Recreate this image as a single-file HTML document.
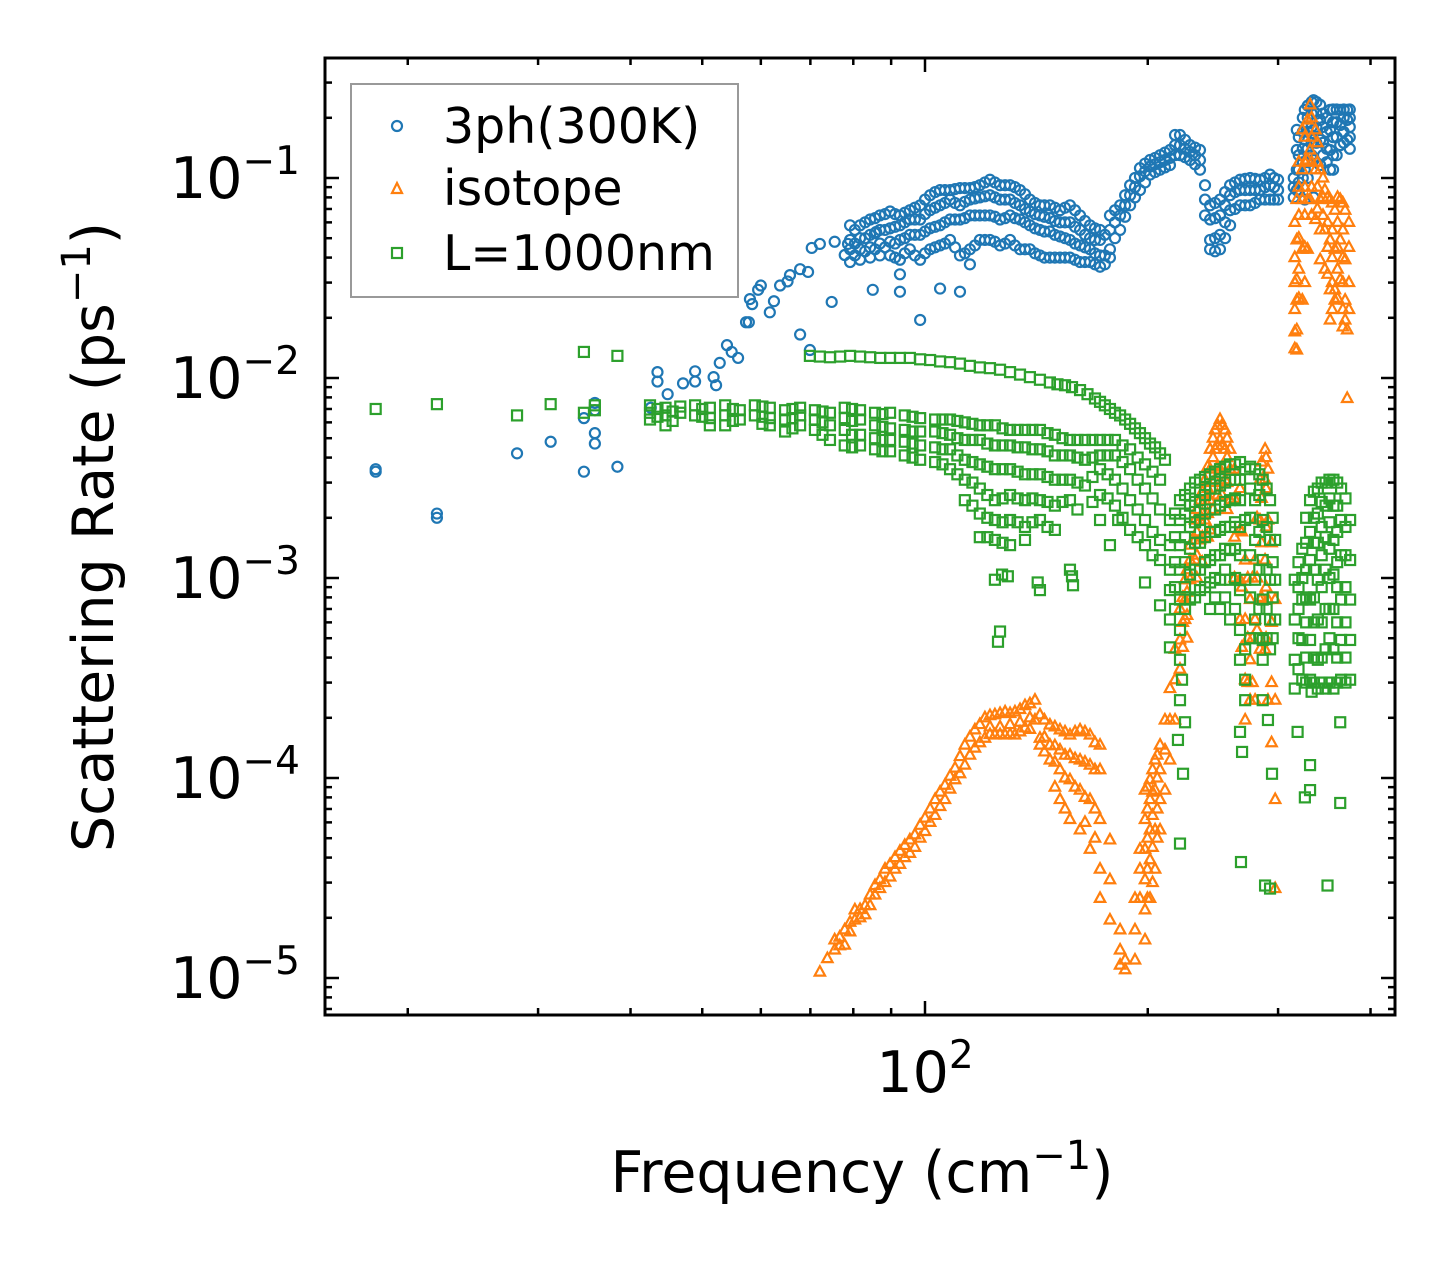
<!DOCTYPE html>
<html><head><meta charset="utf-8">
<style>
html,body{margin:0;padding:0;background:#fff;}
svg{display:block;font-family:"DejaVu Sans","Liberation Sans",sans-serif;}
</style></head>
<body>
<svg id="chart" width="1455" height="1265" viewBox="0 0 1455 1265" xmlns="http://www.w3.org/2000/svg">
<rect x="0" y="0" width="1455" height="1265" fill="#fff"/>
<g id="marks"></g>
<g id="axes"></g>
<g id="legend">
  <rect x="351" y="84" width="387" height="213" fill="#fff" fill-opacity="0.8" stroke="#999" stroke-width="2"/>
  <g>
    <circle cx="397" cy="126" r="5" fill="none" stroke="#1f77b4" stroke-width="2.2"/>
    <text x="443" y="143" font-size="49">3ph(300K)</text>
  </g>
  <g>
    <polygon points="397,183 402,193 392,193" fill="none" stroke="#ff7f0e" stroke-width="2.2"/>
    <text x="443" y="205" font-size="49">isotope</text>
  </g>
  <g>
    <rect x="392" y="248" width="10" height="10" fill="none" stroke="#2ca02c" stroke-width="2.2"/>
    <text x="443" y="270" font-size="49">L=1000nm</text>
  </g>
</g>
<text x="862" y="1192" font-size="57" text-anchor="middle">Frequency (cm<tspan dy="-23" font-size="40">−1</tspan><tspan dy="23">)</tspan></text>
<text transform="translate(113,537) rotate(-90)" font-size="57" text-anchor="middle">Scattering Rate (ps<tspan dy="-23" font-size="40">−1</tspan><tspan dy="23">)</tspan></text>
</svg>
<script>
// ---- data ----
const threePhFreq = [18.1,21.9,28.1,31.2,34.6,35.8,38.4,42.6,43.5,44.9,47.1,48.9,51.8,52.2,52.8,54,54.8,55.9,57.3,57.8,58,58.4,59.5,60,61.7,62.5,63.7,65.2,65.7,67.8,69.5,69.9,70.3,72.1,74.8,75.5,77.9,78.7,85,85.9,
79.2,81.7,84.3,86.9,89.7,92.5,95.4,98.5,101.6,104.8,108.1,111.5,115,118.6,122.4,126.3,130.3,134.4,138.6,143,147.5,152.2,157,162,167.1,172.4,175,177.8,183.5,189.3,195.2,201.4,207.8,214.3,217.7,221.1,228.1,235.3,239,242.8,250.4,258.4,266.5,275,283.6,292.6,300,318,326,335,342,352.7,364,372];
const threePhRates = [[.0034,.0035],[.0021,.0020],[.0042],[.0048],[.0034,.0063],[.0075,.0069,.0053,.0047],[.0036],[.0071],[.0107,.0096],[.0083],[.0094],[.0108,.0096],[.0101],[.0092],[.0119],[.0146],[.0135],[.0126],[.019],[.019],[.0248],[.0234],[.0276],[.029],[.0213],[.0242],[.029],[.0304],[.0327],[.0165,.035],[.0339],[.0138],[.0447],[.0468],[.024],[.048],[.0412],[.0468],[.0276],[.0537],
[.058,.049,.044,.038],[.058,.050,.044,.039],[.062,.052,.045,.040],[.065,.055,.047,.041],[.068,.056,.048,.041],[.065,.058,.049,.039,.033,.027],[.069,.062,.052,.044],[.073,.062,.052,.039,.0195],[.082,.069,.056,.044],[.087,.073,.058,.046,.028],[.087,.078,.062,.049],[.089,.073,.062,.041,.027],[.089,.078,.065,.044,.037],[.092,.080,.065,.049],[.098,.082,.065,.049],[.092,.078,.062,.046],[.092,.078,.065,.049],[.087,.073,.062,.044],[.078,.068,.058,.044],[.073,.065,.055,.041],[.073,.063,.054,.040],[.069,.060,.051,.040],[.073,.060,.049,.040],[.065,.055,.046,.038],[.058,.050,.044,.038],[.055,.049,.041,.036],[.052,.041,.037],[.065,.055,.044,.040],[.073,.065,.055],[.092,.082,.073],[.112,.102,.087],[.123,.114,.104],[.130,.120,.110],[.138,.126,.116],[.164,.146,.130],[.164,.146,.130],[.146,.135,.123],[.138,.123,.110],[.092,.078,.065],[.073,.062,.049,.044],[.078,.065,.052,.044],[.092,.082,.069,.058],[.098,.087,.073],[.100,.087,.073],[.098,.087,.078],[.104,.092,.078],[.098,.087,.078],[.174,.138,.110,.087],[.219,.155,.110,.078],[.245,.174,.123,.080],[.232,.195,.155,.116],[.219,.174,.138,.110],[.219,.184,.146],[.219,.195,.155]];
const threePhFreqExtra = [80.4,83,85.6,88.3,91.1,93.9,96.9,100,103.2,106.4,109.8,113.2,116.8,120.5,124.3,128.3,132.3,136.5,140.8,145,149.8,154.6,159.5,164.5,169.7,180.6,186.4,192.2,198.3,204.6,211,224.6,231.7,246.6,254.4,262.4,270.8,279.3,288.1,296.3,315,320,324,329,333,338,345,349,356,360,368,375];
const threePhRatesExtra = [[.055,.047,.041],[.06,.05,.043],[.063,.053,.044],[.066,.055,.045],[.066,.057,.047,.040],[.067,.06,.05,.042],[.071,.062,.052,.041],[.078,.066,.054,.042],[.085,.071,.057,.045],[.087,.075,.06,.047],[.088,.075,.062,.045],[.089,.076,.063,.042],[.09,.079,.065,.046],[.095,.081,.065,.049],[.095,.08,.064,.048],[.092,.078,.063,.047],[.09,.075,.063,.046],[.083,.07,.06,.044],[.075,.066,.056,.042],[.073,.064,.054,.04],[.071,.061,.052,.04],[.071,.06,.05,.04],[.069,.057,.047,.039],[.061,.052,.045,.038],[.056,.049,.042,.037],[.069,.06,.05],[.082,.073,.064],[.1,.09,.08],[.118,.108,.095],[.126,.117,.107],[.134,.123,.113],[.155,.14,.127],[.142,.13,.117],[.075,.063,.05,.043],[.085,.073,.06,.05],[.095,.085,.07],[.099,.087,.073],[.099,.087,.075],[.1,.09,.078],[.1,.09,.078],[.1,.09,.08],[.16,.13,.11,.095,.085],[.2,.17,.14,.12,.1],[.23,.2,.17,.14,.12,.1],[.24,.21,.18,.15,.13],[.24,.21,.18,.15],[.21,.18,.15,.13],[.2,.17,.14,.12],[.22,.19,.16,.13,.11],[.22,.19,.16,.13],[.22,.2,.17,.15],[.22,.2,.18,.16,.14]];

const isotopeFreq = [72.1,75.5,77.9,80.4,83,85.6,88.3,91.1,93.9,96.9,100,103.2,106.4,109.8,113.2,116.8,120.5,124.3,128.3,132.3,136.5,140.8,143,147.5,152.2,157,162,167.1,172.4,177.8,183.5,186.4,192.2,195.2,198.3,201.4,204.6,207.8,211,214.3,217.7,221.1,224.6,228.1,231.7,235.3,239,242.8,246.6,250.4,254.4,258.4,266.5,270.8,275,279.3,283.6,288.1,290.7,297.3,318,323.5,328.8,331.4,337,342,347,352.7,358,364,369.6,372];
const isotopeRates = [[1.07e-5],[1.55e-5,1.38e-5],[1.74e-5,1.46e-5],[2.19e-5,1.95e-5],[2.3e-5,2.07e-5],[2.9e-5,2.6e-5],[3.5e-5,3.0e-5],[4.0e-5,3.5e-5],[4.6e-5,4.0e-5],[5.2e-5,4.5e-5],[6.3e-5,5.4e-5],[7.8e-5,6.5e-5],[9.2e-5,7.8e-5],[1.12e-4,9.8e-5],[1.46e-4,1.16e-4],[1.74e-4,1.41e-4],[2.0e-4,1.58e-4],[2.07e-4,1.64e-4],[2.14e-4,1.64e-4],[2.14e-4,1.64e-4],[2.3e-4,1.78e-4],[2.45e-4,1.95e-4],[2.07e-4,1.58e-4,1.46e-4],[1.84e-4,1.46e-4,1.23e-4],[1.74e-4,1.38e-4,1.1e-4,7.8e-5],[1.64e-4,1.3e-4,9.8e-5,6.2e-5],[1.74e-4,1.23e-4,8.7e-5,5.5e-5],[1.64e-4,1.16e-4,7.8e-5,4.4e-5],[1.46e-4,1.1e-4,6.2e-5,3.5e-5,2.5e-5],[4.9e-5,3.1e-5,1.95e-5],[1.74e-5,1.38e-5,1.16e-5],[1.23e-5,1.1e-5],[2.5e-5,1.74e-5,1.23e-5],[4.4e-5,3.5e-5,2.5e-5],[8.7e-5,6.2e-5,4.4e-5,3.1e-5,2.19e-5,1.55e-5],[9.8e-5,7.8e-5,5.5e-5,3.9e-5,2.5e-5],[1.23e-4,8.7e-5,5.5e-5,3.5e-5],[1.46e-4,1.1e-4,7.8e-5,5.5e-5],[1.95e-4,1.38e-4,8.7e-5],[2.8e-4,1.95e-4,1.23e-4],[4.4e-4,3.1e-4,1.95e-4],[7.0e-4,4.9e-4,3.5e-4],[9.8e-4,7.8e-4,6.2e-4],[1.46e-3,1.23e-3,9.8e-4],[1.95e-3,1.55e-3,1.23e-3],[2.45e-3,1.95e-3,1.55e-3],[3.1e-3,2.45e-3,1.95e-3],[4.4e-3,3.5e-3,2.45e-3,1.74e-3],[5.5e-3,4.4e-3,3.1e-3],[6.2e-3,4.9e-3,3.5e-3],[5.5e-3,4.4e-3,3.1e-3],[4.4e-3,3.5e-3,2.45e-3],[2.8e-3,1.74e-3,9.8e-4,6.2e-4],[1.23e-3,6.2e-4,3.1e-4,1.95e-4],[7.8e-4,3.9e-4,2.45e-4],[1.23e-3,6.2e-4,2.45e-4],[3.1e-3,1.95e-3,7.8e-4,4.4e-4],[4.4e-3,3.1e-3,1.23e-3,4.4e-4],[3.5e-3,1.95e-3,7.8e-4,2.45e-4],[7.8e-4,2.45e-4,7.8e-5,2.8e-5],[.078,.049,.031,.0245,.0174,.0138],[.174,.11,.078,.044,.0245],[.195,.123,.078,.044],[.232,.138,.078],[.174,.11,.062],[.11,.078,.055,.039],[.087,.055,.035],[.078,.049,.0276,.0195],[.069,.044,.0276,.0245],[.078,.049,.031],[.069,.039,.0245,.0195],[.0174,.0079]];
const isotopeFreqExtra = [73.8,76.7,79.2,81.7,84.3,86.9,89.7,92.5,95.4,98.5,101.6,104.8,108.1,111.5,115,118.6,122.4,126.3,130.3,134.4,138.6,145,149.8,154.6,159.5,164.5,169.7,199.8,203,206,223,226,233,237,241,245,248.5,252,256,262,268,273,277,281,285,289,294,316,320,326,333,339,345,350,355,361,367,374];
const isotopeRatesExtra = [[1.25e-5],[1.6e-5,1.45e-5],[1.9e-5,1.7e-5],[2.2e-5,2e-5],[2.6e-5,2.3e-5],[3.1e-5,2.8e-5],[3.7e-5,3.2e-5],[4.3e-5,3.7e-5],[4.9e-5,4.2e-5],[5.8e-5,5e-5],[7e-5,6e-5],[8.5e-5,7.2e-5],[1.02e-4,8.8e-5],[1.28e-4,1.05e-4],[1.6e-4,1.3e-4],[1.85e-4,1.5e-4],[2.05e-4,1.8e-4,1.65e-4],[2.1e-4,1.8e-4,1.65e-4],[2.1e-4,1.85e-4,1.65e-4],[2.2e-4,1.9e-4,1.7e-4],[2.35e-4,2e-4,1.75e-4],[1.95e-4,1.6e-4,1.35e-4],[1.8e-4,1.45e-4,1.2e-4,9e-5],[1.7e-4,1.3e-4,1e-4,7e-5],[1.7e-4,1.25e-4,9e-5],[1.7e-4,1.2e-4,8e-5,6e-5],[1.5e-4,1.1e-4,7e-5,5e-5],[9e-5,7e-5,5e-5,3.5e-5,2.5e-5],[1.1e-4,8.5e-5,6.5e-5,4.5e-5,3e-5],[1.3e-4,1e-4,7e-5,5e-5],[8e-4,6e-4,4.5e-4],[1.1e-3,8.5e-4,6.5e-4,5e-4],[2.2e-3,1.7e-3,1.3e-3,1e-3],[2.7e-3,2.1e-3,1.6e-3,1.2e-3],[3.6e-3,2.8e-3,2.1e-3,1.6e-3],[5e-3,4e-3,3e-3,2.2e-3],[5.8e-3,4.6e-3,3.6e-3,2.6e-3],[5.8e-3,4.6e-3,3.6e-3,2.6e-3],[5e-3,4e-3,3e-3,2.2e-3],[3.5e-3,2.5e-3,1.6e-3,1e-3],[1.7e-3,9e-4,4.5e-4],[1e-3,5e-4,3e-4],[1e-3,5e-4,3e-4],[2e-3,1e-3,5.5e-4],[3.8e-3,2.5e-3,1.5e-3,8e-4],[4e-3,2.8e-3,1.8e-3,9e-4,5e-4],[1.5e-3,6e-4,3e-4,1.5e-4],[.06,.04,.03,.022,.017,.014],[.12,.09,.065,.05,.035,.025],[.16,.12,.09,.065,.045,.03],[.2,.16,.12,.09,.065],[.15,.12,.09,.07],[.1,.08,.065],[.08,.06,.045,.033],[.075,.055,.04,.03,.022],[.08,.06,.045,.035,.025],[.075,.055,.04,.03,.022,.018],[.06,.045,.03,.022]];

const boundaryFreq = [18.1,21.9,28.1,31.2,34.6,35.8,38.4,42.5,44.6,46.7,48.9,51.2,53.7,56.2,58.9,61.7,64.7,67.8,71.0,74.4,77.9,81.7,85.6,89.7,93.9,98.5,103.2,108.1,113.2,118.6,124.3,130.3,136.5,143,149.8,157,164.5,172.4,180.6,189.3,198.3,207.8,
69.9,74.4,79.2,84.3,89.7,95.4,101.6,108.1,115,122.4,130.3,138.6,147.5,154.6,162,169.7,175,180.6,186.4,192.2,198.3,204.6,211,
124.3,127.1,129.4,142,143,157,158,158.5,125.5,126.3,177.8,182.4,198.3,207.8,214.3,221.1,222.5,221.1,224.6,219.7,223.2,221.1,
214.3,221.1,228.1,235.3,242.8,250.4,258.4,266.5,270.8,279.3,286,292.6,297.3,268.2,267.3,288.1,292.6,294.4,266.5,290.7,286,
316,323.5,331.4,339.5,347.8,356.4,365,375.4,318.8,326.1,331.4,333,364,349.9];
const boundaryRates = [[.0070],[.0074],[.0065],[.0074],[.0135,.0067],[.0073,.0069],[.0129],[.0073,.0067,.0062],[.0071,.0065,.0058],[.0072,.0067],[.0073,.0065],[.0071,.0063,.0058],[.0073,.0065,.0058],[.0069,.0062],[.0073,.0065],[.0071,.0063,.0058],[.0069,.0062,.0054],[.0071,.0065,.0058],[.0069,.0062,.0055],[.0067,.0058,.0049],[.0071,.0063,.0055,.0046],[.0069,.0062,.0052,.0046],[.0067,.0058,.0050,.0044],[.0067,.0056,.0049,.0043],[.0065,.0055,.0048,.0041],[.0063,.0054,.0046,.0039],[.0062,.0054,.0045,.0038],[.0062,.0052,.0044,.0035],[.0060,.0049,.0039,.0031,.00245],[.0058,.0049,.0037,.0028,.0021,.0016],[.0058,.0046,.0035,.00245,.00195,.00155],[.0055,.0046,.0035,.0026,.00195,.00146],[.0055,.0045,.0033,.00245,.0018,.00155],[.0055,.0044,.0033,.00245,.00195],[.0052,.0041,.0031,.0023,.00174],[.0049,.0041,.0031,.00245],[.0049,.0039,.0029],[.0049,.0041,.0035,.0026,.00195],[.0049,.0041,.0031,.0023],[.0044,.0035,.00245,.00174],[.0037,.0028,.00195,.00146],[.0031,.0022,.00155,.00123],
[.0129],[.0127],[.0129],[.0127],[.0126],[.0126],[.0123],[.0120],[.0115],[.0112],[.0107],[.0101],[.0095],[.0092],[.0087],[.0079],[.0073],[.0067],[.0062],[.0056],[.0050],[.0045],[.0039],
[.00098],[.00104],[.00102],[.00095],[.00087],[.0011],[.00102],[.00092],[.00048],[.00054],[.00146],[.00195],[.00095],[.00073],[.00045],[.00039],[.00031],[.000245],[.00019],[.000155],[.000105],[.000047],
[.00195,.00146,.0011,.00087,.00062],[.00245,.00195,.00146,.0011,.00078,.00055],[.0028,.0023,.0018,.0014,.00104,.00078],[.0031,.00245,.00195,.0015,.0011,.00087],[.0033,.0028,.0022,.0017,.00123,.00095,.0007],[.0035,.0029,.0023,.00174,.0013,.00098,.0007],[.0037,.0031,.00245,.0018,.00138,.00098,.00062],[.0038,.0031,.00245,.0018,.0013,.00087,.00055,.00039],[.0035,.00195,.00098,.00044,.00031,.000245],[.0035,.00245,.00155,.00098,.00062],[.0031,.00195,.00123,.00078,.00049,.00039],[.00245,.00155,.00098,.00062,.00044],[.00155,.00098,.00062],[.000135],[.000038],[.000029],[.000028],[.000105],[.00017],[.000195],[.000245],
[.00098,.00062,.00039,.00028],[.0014,.001,.00078,.00049,.00031],[.00245,.0017,.00123,.00078,.00049,.00031],[.0028,.0021,.0015,.00098,.00062,.00039,.00028],[.003,.0023,.0016,.0011,.0007,.00044,.00028],[.0031,.0023,.00155,.00104,.0007,.00044,.00028],[.0028,.00195,.0013,.00078,.00049,.00031],[.00195,.00123,.00078,.00049,.00031],[.00017],[.00008],[.000087,.000116],[.00027],[.00019,.000075],[.000029]];
const boundaryFreqExtra = [217.7,224.6,231.7,239,246.6,254.4,262.4,275,283,289.5,295,319.7,327.4,335.4,343.6,352,360.6,370,110.6,115.9,121.4,127.3,133.4,139.7,146.4,153.4,160.7,168.4,176.5,184.9,193.8,203,
72.1,76.8,81.7,87,92.5,98.5,104.8,111.5,118.6,126.3,134.4,143,151,158,165.8,172.4,177.8,183.5,189.3,195.2,201.4,207.8,
43.5,45.6,50,55,60.3,66.2,72.7,79.7,87.6,96.2,105.6];
const boundaryRatesExtra = [[.0021,.0016,.0012,.0009,.0007],[.0026,.0021,.0016,.0012,.0009,.0007],[.003,.0024,.0019,.0015,.0011,.0008],[.0032,.0026,.0021,.0016,.0012,.0009],[.0034,.0028,.0022,.0017,.0013,.001,.0008],[.0036,.003,.0024,.0018,.0014,.0011,.0008],[.0037,.0031,.0025,.0019,.0014,.001,.0007],[.0036,.0028,.002,.0013,.0008,.0005],[.0033,.0026,.0017,.0011,.0007,.0005],[.0028,.0018,.0011,.0007,.0005],[.002,.0012,.0008,.0005],[.0012,.0009,.0007,.0005,.00035],[.002,.0015,.0011,.0008,.0006,.0004,.0003],[.0027,.002,.0015,.0011,.0008,.0006,.0004,.0003],[.003,.0024,.0018,.0013,.0009,.0006,.0004,.0003],[.0031,.0025,.0019,.0014,.001,.0007,.0005,.0003],[.003,.0023,.0017,.0012,.0009,.0006,.0004,.0003],[.0025,.0018,.0013,.0009,.0006,.0004,.0003],[.0061,.005,.0041,.0033],[.0059,.0049,.0038,.003,.0023],[.0058,.0047,.0036,.0026,.002,.0016],[.0056,.0046,.0035,.0025,.0019,.0015],[.0055,.0045,.0034,.0025,.0019],[.0055,.0044,.0033,.0025,.0019],[.0053,.0043,.0032,.0024,.0018],[.005,.0041,.0031,.0024],[.0049,.004,.003,.0022],[.0049,.004,.0032,.0024],[.0049,.0041,.0033,.0025],[.0046,.0038,.0028,.002],[.004,.0031,.0022,.0016],[.0034,.0025,.0017,.0013],
[.0128],[.0128],[.0128],[.0126],[.0126],[.0124],[.0121],[.0118],[.0113],[.011],[.0104],[.0098],[.0093],[.009],[.0083],[.0076],[.007],[.0065],[.0059],[.0053],[.0047],[.0042],
[.007,.0064],[.0068,.0061],[.007,.0064],[.007,.0061],[.0072,.0064,.0059],[.007,.0063,.0056],[.0068,.006,.0052],[.007,.0061,.0052,.0045],[.0066,.0057,.0049,.0043],[.0064,.0054,.0047,.004],[.0062,.0053,.0044,.0037]];

const yTickExps = [-1,-2,-3,-4,-5];
const xMajorTicks = [100];
const xMinorTicks = [20,30,40,50,60,70,80,90,200,300,400];

// ---- scales ----
const PL=325, PR=1395, PT=58, PB=1015;
function xs(f){ return 925 + 740*Math.log10(f/100); }
function ys(r){ return 178 - 200*(Math.log10(r)+1); }

const NS="http://www.w3.org/2000/svg";
const marks=document.getElementById('marks');
const axes=document.getElementById('axes');
function mk(tag, attrs, parent){
  const e=document.createElementNS(NS,tag);
  for(const k in attrs) e.setAttribute(k,attrs[k]);
  parent.appendChild(e); return e;
}

const defs=mk('defs',{},document.getElementById('chart'));
const cp=mk('clipPath',{id:'clip'},defs);
mk('rect',{x:PL,y:PT,width:PR-PL,height:PB-PT},cp);
marks.setAttribute('clip-path','url(#clip)');

const gBlue=mk('g',{fill:'none',stroke:'#1f77b4','stroke-width':2.2},marks);


const gOr=mk('g',{fill:'none',stroke:'#ff7f0e','stroke-width':2.2},marks);


const gGr=mk('g',{fill:'none',stroke:'#2ca02c','stroke-width':2.2},marks);



function drawBlue(F,R){
  F.forEach((f,i)=>{ R[i].forEach(r=>{
    const c=mk('circle',{cx:xs(f),cy:ys(r),r:5},gBlue);
    
    
  });});
}
function drawOrange(F,R){
  F.forEach((f,i)=>{ R[i].forEach(r=>{
    const x=xs(f), y=ys(r);
    const p=mk('polygon',{points:`${x},${y-6} ${x+5.2},${y+3.5} ${x-5.2},${y+3.5}`},gOr);
    
    
  });});
}
function drawGreen(F,R){
  F.forEach((f,i)=>{ R[i].forEach(r=>{
    const s=mk('rect',{x:xs(f)-5,y:ys(r)-5,width:10,height:10},gGr);
    
    
  });});
}
drawBlue(threePhFreq,threePhRates);
drawBlue(threePhFreqExtra,threePhRatesExtra);
drawOrange(isotopeFreq,isotopeRates);
drawOrange(isotopeFreqExtra,isotopeRatesExtra);
drawGreen(boundaryFreq,boundaryRates);
drawGreen(boundaryFreqExtra,boundaryRatesExtra);

const frame=mk('rect',{x:PL,y:PT,width:PR-PL,height:PB-PT,fill:'none',stroke:'#000','stroke-width':3},axes);



for(let e=-6;e<=0;e++){
  for(let m=1;m<=9;m++){
    const r=m*Math.pow(10,e);
    const y=ys(r);
    if(y<PT+1||y>PB-1) continue;
    const L=(m===1)?14:7;
    mk('line',{x1:PL,x2:PL+L,y1:y,y2:y,stroke:'#000','stroke-width':2.5},axes);
    mk('line',{x1:PR,x2:PR-L,y1:y,y2:y,stroke:'#000','stroke-width':2.5},axes);
  }
}
yTickExps.forEach(ex=>{
  const y=ys(Math.pow(10,ex));
  const t=mk('text',{x:300,y:y+20,'font-size':57,'text-anchor':'end'},axes);
  
  
  t.textContent='10';
  const s=mk('tspan',{dy:-24,'font-size':39},t);
  s.textContent='−'+Math.abs(ex);
});
xMinorTicks.forEach(f=>{
  const x=xs(f);
  if(x<PL||x>PR) return;
  mk('line',{x1:x,x2:x,y1:PB,y2:PB-7,stroke:'#000','stroke-width':2.5},axes);
  mk('line',{x1:x,x2:x,y1:PT,y2:PT+7,stroke:'#000','stroke-width':2.5},axes);
});
xMajorTicks.forEach(f=>{
  const x=xs(f);
  mk('line',{x1:x,x2:x,y1:PB,y2:PB-14,stroke:'#000','stroke-width':2.5},axes);
  mk('line',{x1:x,x2:x,y1:PT,y2:PT+14,stroke:'#000','stroke-width':2.5},axes);
  const t=mk('text',{x:x,y:1092,'font-size':57,'text-anchor':'middle'},axes);
  
  
  t.textContent='10';
  const s=mk('tspan',{dy:-24,'font-size':39},t);
  s.textContent=String(Math.round(Math.log10(f)));
});
</script>
</body></html>
